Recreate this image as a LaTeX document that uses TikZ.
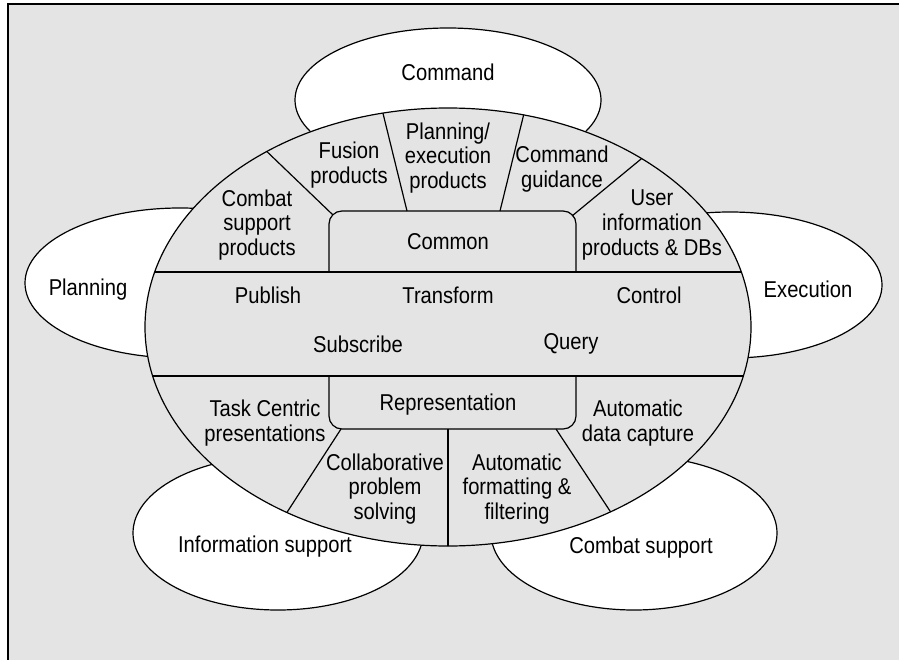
\documentclass[tikz,border=0pt]{standalone}
\usepackage{fontspec}
\setmainfont[FakeStretch=0.88]{Liberation Sans}
\usetikzlibrary{shapes.geometric}
\definecolor{panelgray}{RGB}{228,228,228}
\tikzset{
outeroval/.style={ellipse, draw=black!100,fill=white,line width=1.2bp, inner sep=0pt},
partline/.style={draw=black!100,line width=1.2bp},
lbl/.style={align=center, inner sep=0pt, font=\fontsize{23}{25}\selectfont},
}

\begin{document}
\begin{tikzpicture}[x=1bp,y=-1bp]
\useasboundingbox (0,0) rectangle (899,660);
\clip (0,0) rectangle (899,660);
% frame
\fill[panelgray] (8,4) rectangle (899,660);
\draw[line width=2bp] (8,660) -- (8,4) -- (899,4);

% outer ovals
\node[outeroval, minimum width=306bp, minimum height=144bp] at (448,100) (cmdoval) {};
\node[outeroval, minimum width=310bp, minimum height=150bp] at (180,283) (planoval) {};
\node[outeroval, minimum width=304bp, minimum height=146bp] at (730,285) (execoval) {};
\node[outeroval, minimum width=290bp, minimum height=154bp] at (278,533) (infooval) {};
\node[outeroval, minimum width=286bp, minimum height=154bp] at (634,533) (combatoval) {};

% central ellipse
\draw[partline, fill=panelgray] (448,327) ellipse [x radius=303, y radius=219];

\begin{scope}
\clip (448,327) ellipse [x radius=303, y radius=219];
\draw[partline] (100,272) -- (800,272);
\draw[partline] (100,376) -- (800,376);
\draw[partline, rounded corners=13] (329,272) -- (329,211) -- (576,211) -- (576,272);
\draw[partline, rounded corners=13] (329,376) -- (329,429) -- (576,429) -- (576,376);
\draw[partline] (333,215) -- (234,120);
\draw[partline] (407,211) -- (377,89);
\draw[partline] (500,211) -- (530,89);
\draw[partline] (572,216) -- (675,131);
\draw[partline] (341,429) -- (260,554);
\draw[partline] (448,429) -- (448,560);
\draw[partline] (556,429) -- (637,552);
\end{scope}

% labels
\node[lbl] at (448,72) (command) {Command};
\node[lbl] at (88,290) (planning) {Planning};
\node[lbl] at (808,289) (execution) {Execution};
\node[lbl] at (265,547) (infosupport) {Information support};
\node[lbl] at (641,548) (combatsupport) {Combat support};
\node[lbl] at (349,165) (fusion) {Fusion\\products};
\node[lbl] at (448,158) (planexec) {Planning/\\execution\\products};
\node[lbl] at (562,169) (cmdguide) {Command\\guidance};
\node[lbl] at (257,225) (combatprod) {Combat\\support\\products};
\node[lbl] at (652,225) (userinfo) {User\\information\\products \& DBs};
\node[lbl] at (448,242) (common) {Common};
\node[lbl] at (268,295) (publish) {Publish};
\node[lbl] at (448,295) (transform) {Transform};
\node[lbl] at (649,295) (control) {Control};
\node[lbl] at (358,344) (subscribe) {Subscribe};
\node[lbl] at (571,344) (query) {Query};
\node[lbl] at (448,405) (representation) {Representation};
\node[lbl] at (265,423) (taskcentric) {Task Centric\\presentations};
\node[lbl] at (638,423) (datacapture) {Automatic\\data capture};
\node[lbl] at (385,489) (collab) {Collaborative\\problem\\solving};
\node[lbl] at (517,489) (autoformat) {Automatic\\formatting \&\\filtering};
\end{tikzpicture}
\end{document}
